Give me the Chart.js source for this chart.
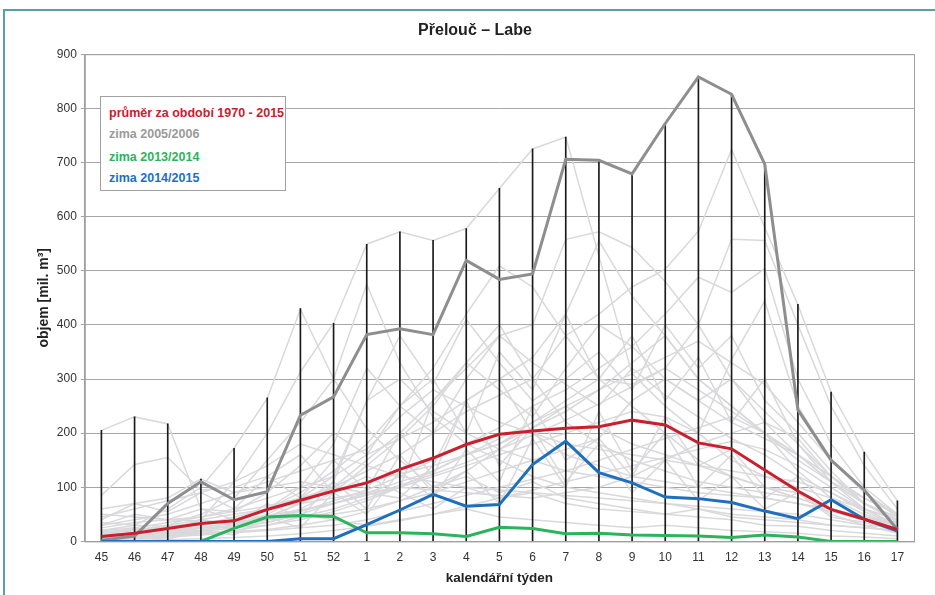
<!DOCTYPE html>
<html>
<head>
<meta charset="utf-8">
<script src="https://cdn.jsdelivr.net/npm/chart.js@4.4.1/dist/chart.umd.min.js"></script>
<style>
  body { margin: 0; background: #fff; font-family: "Liberation Sans", Arial, sans-serif; }
  #wrap { position: relative; width: 935px; height: 595px; overflow: hidden; }
  #frame { position: absolute; left: 3px; top: 9px; width: 1000px; height: 700px;
           border-left: 2px solid #5a9fa5; border-top: 2px solid #5a9fa5; }
  #legendBox { position: absolute; left: 100px; top: 96px; width: 184px; height: 93px;
               background: #fff; border: 1px solid #a0a0a0; font-weight: bold; font-size: 12.5px; }
  #legendBox div { position: absolute; left: 8px; white-space: nowrap; }
</style>
</head>
<body>
<div id="wrap">
  <div id="frame"></div>
  <canvas id="chart" width="935" height="595"></canvas>
  <div id="legendBox">
    <div style="top:9px;color:#c8202e">průměr za období 1970 - 2015</div>
    <div style="top:30px;color:#9a9a9a">zima 2005/2006</div>
    <div style="top:53px;color:#2bb45c">zima 2013/2014</div>
    <div style="top:74px;color:#1f6fbf">zima 2014/2015</div>
  </div>
</div>
<script>
// calendar weeks, winter season
const weeks = ['45','46','47','48','49','50','51','52','1','2','3','4','5','6','7','8','9','10','11','12','13','14','15','16','17'];

const average = [9,15,24,33,38,59,76,93,108,133,154,179,198,204,209,212,224,215,182,171,132,93,59,41,22];
const winter0506 = [2,10,70,110,77,92,233,267,382,393,382,519,484,494,706,704,679,772,858,826,697,243,150,95,22];
const winter1314 = [0,0,0,0,24,45,48,46,16,16,14,9,26,24,14,15,12,11,10,7,12,8,0,0,0];
const winter1415 = [0,0,0,0,0,0,5,5,31,58,87,65,68,142,185,127,108,82,79,72,56,42,77,41,19];

// max per week over all winters (black verticals)
const weekMax = [205,230,217,115,172,265,430,403,549,572,556,578,652,725,747,705,679,772,858,826,697,438,276,165,75];

// other winters 1970 - 2015 (light grey)
const otherWinters = [
  [205,230,217,60,40,35,50,40,30,40,50,60,45,40,35,30,25,30,25,20,18,15,10,8,5],
  [85,142,155,95,100,120,160,90,120,90,60,100,80,90,70,60,55,50,45,40,30,28,20,15,10],
  [20,30,60,100,172,264,429,300,208,150,100,120,90,110,80,70,60,50,60,45,40,35,30,25,20],
  [5,10,20,40,110,200,313,403,549,572,556,578,652,725,747,527,310,250,200,150,120,100,80,60,40],
  [10,15,30,50,80,150,220,300,475,330,230,180,150,120,100,90,80,70,60,50,45,40,30,25,20],
  [15,20,25,30,40,60,90,130,180,250,320,420,509,470,380,300,250,200,150,120,100,80,60,45,30],
  [10,12,18,25,35,45,70,100,150,200,260,320,380,400,558,572,543,480,400,300,220,160,110,70,40],
  [8,10,15,20,30,50,80,120,160,190,220,260,300,340,420,555,453,380,300,250,200,150,110,80,50],
  [12,15,20,30,45,60,80,100,130,160,200,240,270,300,380,420,470,503,573,724,580,437,276,165,75],
  [5,8,12,18,25,35,50,70,90,110,130,160,180,220,260,300,290,320,400,558,556,400,250,140,60],
  [6,9,14,20,30,40,55,75,95,120,150,180,210,250,280,320,360,420,488,460,504,300,180,100,50],
  [4,6,10,15,20,30,45,60,80,100,120,140,160,180,200,220,240,230,200,336,444,250,150,90,45],
  [45,60,75,90,110,140,180,160,140,120,110,100,95,90,85,80,75,70,65,60,55,50,40,30,25],
  [30,40,50,70,90,110,130,150,170,230,280,250,220,200,180,170,160,150,140,130,120,110,90,60,40],
  [20,25,35,45,60,80,100,120,260,300,240,200,170,150,130,120,110,100,90,85,80,70,60,45,35],
  [60,70,80,115,90,100,110,100,90,80,140,260,300,200,160,140,120,110,100,90,80,70,55,40,30],
  [40,70,55,90,60,120,80,150,95,200,120,260,140,210,110,180,90,150,75,120,60,90,45,35,20],
  [15,20,30,40,50,60,70,80,90,100,95,90,85,80,90,100,120,150,180,200,220,190,120,70,40],
  [25,35,40,45,55,65,80,95,110,125,140,160,180,210,240,280,330,380,300,250,200,160,110,70,45],
  [10,25,15,40,30,70,45,110,60,160,90,130,70,190,100,240,130,200,100,160,80,120,60,40,25],
  [3,5,8,12,16,20,25,30,40,55,70,85,100,115,130,150,170,190,210,230,200,130,80,50,30],
  [50,45,40,38,36,40,45,50,60,75,90,110,130,150,170,190,260,300,260,220,190,160,120,80,50],
  [2,8,4,20,12,45,25,90,50,130,80,170,110,250,150,190,120,230,140,170,100,90,50,30,15],
  [18,22,28,34,40,48,58,70,85,100,260,330,400,300,220,180,150,130,110,100,90,80,60,45,30],
  [7,9,11,14,18,22,30,40,55,75,100,130,170,210,250,210,180,160,140,120,100,80,60,40,25],
  [35,30,28,26,25,30,40,55,75,100,130,160,190,220,250,280,310,340,370,330,290,220,150,90,50],
  [1,2,3,5,7,10,14,20,28,38,50,65,80,95,110,125,140,155,170,185,170,140,100,60,30],
  [12,16,20,26,34,44,56,70,86,104,124,146,170,196,224,254,286,320,280,240,200,160,120,80,50],
  [10,15,20,30,40,60,100,180,320,250,300,200,350,280,420,300,380,260,340,220,300,180,110,60,30],
  [5,10,15,20,30,45,70,110,260,380,290,410,330,260,300,350,280,400,320,380,260,200,130,70,35],
  [30,50,40,60,55,90,140,200,160,250,200,300,380,330,290,250,320,270,230,190,160,120,90,55,30],
  [8,12,16,24,30,40,60,90,140,190,250,330,280,230,320,400,360,300,260,300,240,180,120,70,40]
];

const FONT = "'Liberation Sans', Arial, sans-serif";

// grey border round the plot area
const plotBorder = {
    id: 'plotBorder',
    afterDraw(chart) {
        const { ctx, chartArea: a } = chart;
        ctx.save();
        ctx.strokeStyle = '#a0a0a0';
        ctx.lineWidth = 1;
        ctx.strokeRect(a.left + 0.5, a.top + 0.5, a.right - a.left, a.bottom - a.top);
        ctx.restore();
    }
};

const greyDatasets = otherWinters.map(values => ({
    type: 'line',
    data: values,
    borderColor: '#d9d9db',
    borderWidth: 1.5,
    pointRadius: 0,
    tension: 0,
    order: 10
}));

function mainLine(values, color, order) {
    return {
        type: 'line',
        data: values,
        borderColor: color,
        borderWidth: 3,
        pointRadius: 0,
        tension: 0,
        order: order
    };
}

new Chart(document.getElementById('chart'), {
    data: {
        labels: weeks,
        datasets: [
            ...greyDatasets,
            {
                type: 'bar',
                data: weekMax.map(v => [0, v]),
                backgroundColor: '#1a1a1a',
                barThickness: 1,
                order: 5
            },
            mainLine(winter0506, '#8e8e90', 4),
            mainLine(winter1314, '#2bb45c', 3),
            mainLine(winter1415, '#1f6fbf', 2),
            mainLine(average, '#c8202e', 1)
        ]
    },
    options: {
        responsive: false,
        animation: false,
        layout: { padding: { left: 36, right: 21, top: 17, bottom: 9 } },
        plugins: {
            legend: { display: false },
            tooltip: { enabled: false },
            title: {
                display: true,
                text: 'Přelouč – Labe',
                color: '#222',
                font: { family: FONT, size: 16, weight: 'bold' },
                padding: { top: 4, bottom: 14 }
            }
        },
        scales: {
            x: {
                offset: true,
                grid: { display: false },
                border: { display: true, color: '#a0a0a0' },
                ticks: { color: '#333', font: { family: FONT, size: 12 }, padding: 1, maxRotation: 0, autoSkip: false },
                title: {
                    display: true,
                    text: 'kalendářní týden',
                    color: '#222',
                    font: { family: FONT, size: 13.5, weight: 'bold' },
                    padding: { top: 4, bottom: 0 }
                }
            },
            y: {
                min: 0,
                max: 900,
                ticks: { stepSize: 100, color: '#333', font: { family: FONT, size: 12 }, padding: 4 },
                grid: { color: '#a6a6a6', tickLength: 4 },
                border: { color: '#a0a0a0' },
                title: {
                    display: true,
                    text: 'objem [mil. m³]',
                    color: '#222',
                    font: { family: FONT, size: 14, weight: 'bold' },
                    padding: { top: 0, bottom: 0 }
                }
            }
        }
    },
    plugins: [plotBorder]
});
</script>
</body>
</html>
